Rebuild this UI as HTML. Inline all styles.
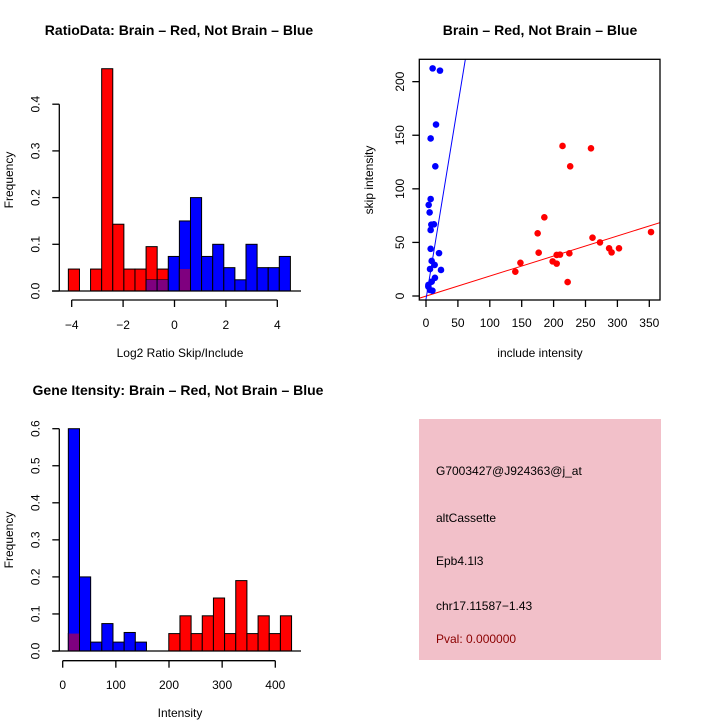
<!DOCTYPE html>
<html><head><meta charset="utf-8"><style>
body{margin:0;background:#fff}
svg{display:block;font-family:"Liberation Sans",sans-serif}
text{fill:#000}
</style></head><body>
<svg id="c" width="720" height="720" viewBox="0 0 720 720"></svg>
<script>
// ---- data ----
const ratioRed=[0.047,0,0.047,0.476,0.143,0.047,0.047,0.095,0.047,0,0.047,0,0,0,0,0,0,0,0,0];
const ratioBlue=[0,0,0,0,0,0,0,0.024,0.024,0.074,0.15,0.2,0.074,0.1,0.05,0.024,0.1,0.05,0.05,0.074];
const ratioBinStart=-4.13, ratioBinWidth=0.432;
const ratioXTicks=[-4,-2,0,2,4];
const ratioYTicks=[0,0.1,0.2,0.3,0.4];

const intRed=[0.047,0,0,0,0,0,0,0,0,0.047,0.095,0.047,0.095,0.143,0.047,0.19,0.047,0.095,0.047,0.095];
const intBlue=[0.6,0.2,0.024,0.074,0.024,0.05,0.024,0,0,0,0,0,0,0,0,0,0,0,0,0];
const intBinStart=10.6, intBinWidth=21;
const intXTicks=[0,100,200,300,400];
const intYTicks=[0,0.1,0.2,0.3,0.4,0.5,0.6];

const redX=[214,258.6,226,185.5,175,176.6,140,148,198.5,204.8,210,204.8,224.7,222,261,272.7,287,290.9,302.5,352.7];
const redY=[140,137.8,121,73.4,58.5,40.4,22.7,31,32.3,38.3,38.6,30.2,39.8,13,54.4,50,44.5,40.7,44.5,59.7];
const blueX=[10.4,21.9,15.7,7.3,14.6,7.3,4.2,5.7,8.4,12.5,7.3,7.3,20.4,8.9,13.6,6.3,23.5,14,8.9,3.7,6.3,10,3.7];
const blueY=[212.4,210.3,160,147,121,90.5,85,78,66.6,66.9,61.6,44,40,32.7,29,25.2,24.3,17,13.4,10.3,5.6,5,8.7];
const scXTicks=[0,50,100,150,200,250,300,350];
const scYTicks=[0,50,100,150,200];
const redFit=[-0.1,0.187], blueFit=[-3,3.63];

const svg=document.getElementById('c');
const NS='http://www.w3.org/2000/svg';
function mk(tag,attrs,parent){const e=document.createElementNS(NS,tag);for(const k in attrs)e.setAttribute(k,attrs[k]);(parent||svg).appendChild(e);return e;}
function txt(s,x,y,opt,parent){const t=mk('text',Object.assign({x:x,y:y,'font-size':12,'text-anchor':'middle'},opt||{}),parent);t.textContent=s;return t;}

function hist(name,red,blue,start,w,sx,sy,xt,yt,x0,x1,yAxisX,y0,axisY,tickLblY){
  const g=mk('g',{});
  
  
  for(let i=0;i<red.length;i++){
    const a=sx(start+i*w), b=sx(start+(i+1)*w);
    const r=red[i], bl=blue[i];
    if(r>0){const e=mk('rect',{x:a,y:sy(r),width:b-a,height:sy(0)-sy(r),fill:'#ff0000',stroke:'#000','stroke-width':1},g);
      }
    if(bl>0){const e=mk('rect',{x:a,y:sy(bl),width:b-a,height:sy(0)-sy(bl),fill:'#0000ff',stroke:'#000','stroke-width':1},g);
      }
    const m=Math.min(r,bl);
    if(m>0){const e=mk('rect',{x:a+0.5,y:sy(m),width:b-a-1,height:sy(0)-sy(m)-0.5,fill:'#7f007f'},g);
      }
  }
  mk('line',{x1:x0,x2:x1,y1:sy(0),y2:sy(0),stroke:'#000','stroke-width':1.3},g);
  mk('line',{x1:sx(xt[0]),x2:sx(xt[xt.length-1]),y1:axisY,y2:axisY,stroke:'#000','stroke-width':1.3},g);
  xt.forEach(v=>{mk('line',{x1:sx(v),x2:sx(v),y1:axisY,y2:axisY+7,stroke:'#000','stroke-width':1.3},g);
    txt(String(v).replace('-','\u2212'),sx(v),tickLblY,{},g);});
  mk('line',{x1:yAxisX,x2:yAxisX,y1:sy(yt[0]),y2:sy(yt[yt.length-1]),stroke:'#000','stroke-width':1.3},g);
  yt.forEach(v=>{mk('line',{x1:yAxisX,x2:yAxisX-7,y1:sy(v),y2:sy(v),stroke:'#000','stroke-width':1.3},g);
    txt(v.toFixed(1),0,0,{transform:`translate(${yAxisX-20},${sy(v)}) rotate(-90)`},g);});
}

const sx1=v=>174.5+v*25.7, sy1=v=>291-v*467;
hist('ratio-histogram',ratioRed,ratioBlue,ratioBinStart,ratioBinWidth,sx1,sy1,ratioXTicks,ratioYTicks,52,301,59.3,0,300,329);
txt('RatioData: Brain \u2013 Red, Not Brain \u2013 Blue',179,35,{'font-weight':'bold','font-size':14});
txt('Log2 Ratio Skip/Include',180,357);
txt('Frequency',0,0,{transform:'translate(13,180) rotate(-90)'});

const sx3=v=>62.7+v*0.5315, sy3=v=>651-v*370.5;
hist('intensity-histogram',intRed,intBlue,intBinStart,intBinWidth,sx3,sy3,intXTicks,intYTicks,52,301,59.3,0,660.7,689);
txt('Gene Itensity: Brain \u2013 Red, Not Brain \u2013 Blue',178,395,{'font-weight':'bold','font-size':14});
txt('Intensity',180,717);
txt('Frequency',0,0,{transform:'translate(13,540) rotate(-90)'});

const sx2=v=>426+v*0.638, sy2=v=>296-v*1.0717;
const sg=mk('g',{});


mk('clipPath',{id:'clp'},sg);
mk('rect',{x:419.3,y:59.3,width:240.7,height:240.7},document.getElementById('clp'));
const lg=mk('g',{'clip-path':'url(#clp)'},sg);
const fx0=-20,fx1=380;
const rl=mk('line',{x1:sx2(fx0),y1:sy2(redFit[0]+redFit[1]*fx0),x2:sx2(fx1),y2:sy2(redFit[0]+redFit[1]*fx1),stroke:'#ff0000','stroke-width':1},lg);

const bl=mk('line',{x1:sx2(fx0),y1:sy2(blueFit[0]+blueFit[1]*fx0),x2:sx2(fx1),y2:sy2(blueFit[0]+blueFit[1]*fx1),stroke:'#0000ff','stroke-width':1},lg);

redX.forEach((x,i)=>{const c=mk('circle',{cx:sx2(x),cy:sy2(redY[i]),r:3.3,fill:'#ff0000'},sg);
  });
blueX.forEach((x,i)=>{const c=mk('circle',{cx:sx2(x),cy:sy2(blueY[i]),r:3.3,fill:'#0000ff'},sg);
  });
mk('rect',{x:419.3,y:59.3,width:240.7,height:240.7,fill:'none',stroke:'#000','stroke-width':1.3},sg);
scXTicks.forEach(v=>{mk('line',{x1:sx2(v),x2:sx2(v),y1:300,y2:307,stroke:'#000','stroke-width':1.3},sg);txt(String(v),sx2(v),327,{},sg);});
scYTicks.forEach(v=>{mk('line',{x1:419.3,x2:412.3,y1:sy2(v),y2:sy2(v),stroke:'#000','stroke-width':1.3},sg);
  txt(String(v),0,0,{transform:`translate(404,${sy2(v)}) rotate(-90)`},sg);});
txt('Brain \u2013 Red, Not Brain \u2013 Blue',540,35,{'font-weight':'bold','font-size':14});
txt('include intensity',540,357);
txt('skip intensity',0,0,{transform:'translate(373,180) rotate(-90)'});

const ib=mk('g',{});


mk('rect',{x:419,y:419,width:242,height:241,fill:'#f2c0c9'},ib);
const lines=[['G7003427@J924363@j_at',475,'#000'],['altCassette',522,'#000'],['Epb4.1l3',565,'#000'],['chr17.11587\u22121.43',610,'#000'],['Pval: 0.000000',643,'#8b0000']];
lines.forEach(l=>{const t=txt(l[0],436,l[1],{'text-anchor':'start'},ib);t.setAttribute('fill',l[2]);t.style.fill=l[2];
  });
</script>
</body></html>
